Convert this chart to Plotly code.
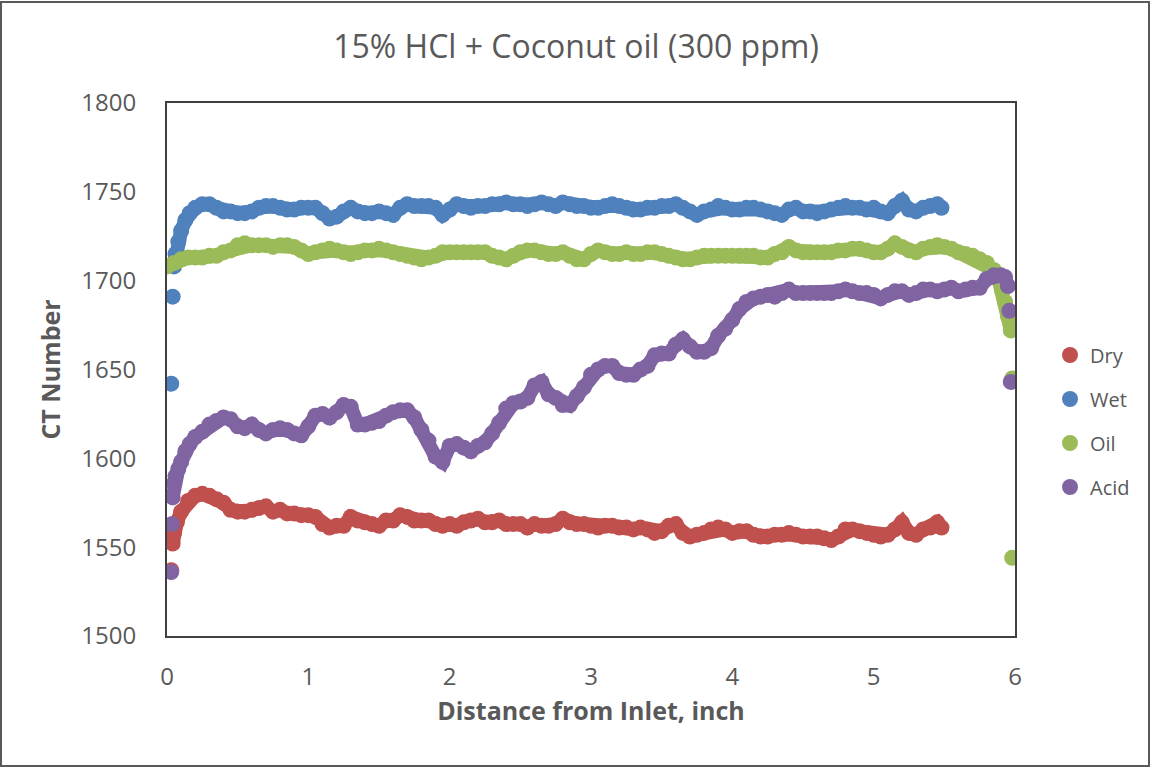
import plotly.graph_objects as go

# ---------------- data ----------------
dry_x = [0.03, 0.04, 0.05, 0.07, 0.10, 0.15, 0.20, 0.25, 0.30, 0.35, 0.40, 0.45, 0.50, 0.55, 0.60, 0.65, 0.70, 0.75, 0.80, 0.85,
         0.90, 0.95, 1.00, 1.05, 1.10, 1.15, 1.20, 1.25, 1.30, 1.35, 1.40, 1.45, 1.50, 1.55, 1.60, 1.65, 1.70, 1.75, 1.80, 1.85,
         1.90, 1.95, 2.00, 2.05, 2.10, 2.15, 2.20, 2.25, 2.30, 2.35, 2.40, 2.45, 2.50, 2.55, 2.60, 2.65, 2.70, 2.75, 2.80, 2.85,
         2.90, 2.95, 3.00, 3.05, 3.10, 3.15, 3.20, 3.25, 3.30, 3.35, 3.40, 3.45, 3.50, 3.55, 3.60, 3.65, 3.70, 3.75, 3.80, 3.85,
         3.90, 3.95, 4.00, 4.05, 4.10, 4.15, 4.20, 4.25, 4.30, 4.35, 4.40, 4.45, 4.50, 4.55, 4.60, 4.65, 4.70, 4.75, 4.80, 4.85,
         4.90, 4.95, 5.00, 5.05, 5.10, 5.15, 5.20, 5.25, 5.30, 5.35, 5.40, 5.45, 5.48]
dry_y = [1537, 1552, 1558, 1564, 1570, 1576, 1579, 1580, 1579, 1577, 1575, 1571, 1570, 1570, 1571, 1572, 1573, 1570, 1571, 1569,
         1569, 1568, 1568, 1567, 1563, 1561, 1562, 1562, 1567, 1565, 1564, 1563, 1562, 1565, 1565, 1568, 1567, 1565, 1565, 1565,
         1563, 1562, 1563, 1562, 1564, 1565, 1566, 1564, 1564, 1565, 1563, 1563, 1563, 1561, 1563, 1562, 1562, 1563, 1566, 1564,
         1563, 1563, 1562, 1561, 1562, 1562, 1561, 1561, 1560, 1561, 1560, 1558, 1559, 1562, 1563, 1558, 1556, 1557, 1558, 1560,
         1561, 1560, 1558, 1559, 1559, 1557, 1556, 1556, 1557, 1557, 1558, 1557, 1556, 1556, 1556, 1555, 1554, 1556, 1560, 1560,
         1559, 1558, 1557, 1556, 1557, 1560, 1564, 1558, 1557, 1560, 1561, 1564, 1561]

wet_x = [0.03, 0.04, 0.05, 0.06, 0.08, 0.10, 0.13, 0.16, 0.20, 0.25, 0.30, 0.35, 0.40, 0.45, 0.50, 0.55, 0.60, 0.65, 0.70, 0.75,
         0.80, 0.85, 0.90, 0.95, 1.00, 1.05, 1.10, 1.15, 1.20, 1.25, 1.30, 1.35, 1.40, 1.45, 1.50, 1.55, 1.60, 1.65, 1.70, 1.75,
         1.80, 1.85, 1.90, 1.95, 2.00, 2.05, 2.10, 2.15, 2.20, 2.25, 2.30, 2.35, 2.40, 2.45, 2.50, 2.55, 2.60, 2.65, 2.70, 2.75,
         2.80, 2.85, 2.90, 2.95, 3.00, 3.05, 3.10, 3.15, 3.20, 3.25, 3.30, 3.35, 3.40, 3.45, 3.50, 3.55, 3.60, 3.65, 3.70, 3.75,
         3.80, 3.85, 3.90, 3.95, 4.00, 4.05, 4.10, 4.15, 4.20, 4.25, 4.30, 4.35, 4.40, 4.45, 4.50, 4.55, 4.60, 4.65, 4.70, 4.75,
         4.80, 4.85, 4.90, 4.95, 5.00, 5.05, 5.10, 5.15, 5.20, 5.25, 5.30, 5.35, 5.40, 5.45, 5.48]
wet_y = [1642, 1691, 1708, 1715, 1722, 1728, 1734, 1738, 1741, 1743, 1743, 1741, 1739, 1739, 1738, 1738, 1739, 1741, 1742, 1742,
         1741, 1740, 1740, 1741, 1741, 1741, 1738, 1735, 1736, 1739, 1741, 1739, 1738, 1738, 1739, 1738, 1737, 1741, 1743, 1742,
         1742, 1742, 1741, 1737, 1740, 1743, 1742, 1741, 1742, 1742, 1743, 1743, 1744, 1743, 1743, 1742, 1743, 1744, 1743, 1742,
         1744, 1743, 1742, 1742, 1741, 1741, 1742, 1743, 1742, 1741, 1740, 1740, 1741, 1741, 1742, 1742, 1743, 1741, 1739, 1737,
         1739, 1740, 1742, 1741, 1740, 1740, 1741, 1741, 1740, 1739, 1738, 1737, 1740, 1741, 1739, 1739, 1738, 1739, 1740, 1741,
         1742, 1741, 1741, 1740, 1741, 1739, 1738, 1742, 1745, 1740, 1739, 1741, 1742, 1743, 1741]

oil_x = [0.00, 0.05, 0.10, 0.15, 0.20, 0.25, 0.30, 0.35, 0.40, 0.45, 0.50, 0.55, 0.60, 0.65, 0.70, 0.75, 0.80, 0.85, 0.90, 0.95,
         1.00, 1.05, 1.10, 1.15, 1.20, 1.25, 1.30, 1.35, 1.40, 1.45, 1.50, 1.55, 1.60, 1.65, 1.70, 1.75, 1.80, 1.85, 1.90, 1.95,
         2.00, 2.05, 2.10, 2.15, 2.20, 2.25, 2.30, 2.35, 2.40, 2.45, 2.50, 2.55, 2.60, 2.65, 2.70, 2.75, 2.80, 2.85, 2.90, 2.95,
         3.00, 3.05, 3.10, 3.15, 3.20, 3.25, 3.30, 3.35, 3.40, 3.45, 3.50, 3.55, 3.60, 3.65, 3.70, 3.75, 3.80, 3.85, 3.90, 3.95,
         4.00, 4.05, 4.10, 4.15, 4.20, 4.25, 4.30, 4.35, 4.40, 4.45, 4.50, 4.55, 4.60, 4.65, 4.70, 4.75, 4.80, 4.85, 4.90, 4.95,
         5.00, 5.05, 5.10, 5.15, 5.20, 5.25, 5.30, 5.35, 5.40, 5.45, 5.50, 5.55, 5.60, 5.65, 5.70, 5.75, 5.80, 5.85, 5.88, 5.91,
         5.93, 5.95, 5.97, 5.98, 5.98]
oil_y = [1708, 1710, 1712, 1713, 1713, 1713, 1714, 1714, 1716, 1717, 1720, 1721, 1720, 1720, 1720, 1719, 1720, 1720, 1719, 1717,
         1715, 1716, 1717, 1718, 1717, 1716, 1715, 1716, 1717, 1717, 1718, 1717, 1716, 1715, 1714, 1713, 1712, 1713, 1714, 1716,
         1716, 1716, 1716, 1716, 1716, 1716, 1714, 1713, 1712, 1714, 1716, 1717, 1717, 1716, 1715, 1715, 1716, 1714, 1712, 1712,
         1715, 1717, 1716, 1715, 1715, 1716, 1715, 1715, 1716, 1716, 1715, 1714, 1713, 1712, 1712, 1713, 1714, 1714, 1714, 1714,
         1714, 1714, 1714, 1714, 1713, 1713, 1715, 1716, 1719, 1717, 1716, 1716, 1716, 1716, 1716, 1717, 1717, 1718, 1718, 1717,
         1716, 1716, 1718, 1721, 1719, 1717, 1716, 1718, 1719, 1720, 1719, 1718, 1716, 1715, 1714, 1712, 1710, 1706, 1702, 1694,
         1688, 1680, 1672, 1645, 1544]

acid_x = [0.03, 0.035, 0.04, 0.05, 0.06, 0.08, 0.10, 0.13, 0.16, 0.20, 0.25, 0.30, 0.35, 0.40, 0.45, 0.50, 0.55, 0.60, 0.65, 0.70,
          0.75, 0.80, 0.85, 0.90, 0.95, 1.00, 1.05, 1.10, 1.15, 1.20, 1.25, 1.30, 1.35, 1.40, 1.45, 1.50, 1.55, 1.60, 1.65, 1.70,
          1.75, 1.80, 1.85, 1.90, 1.95, 2.00, 2.05, 2.10, 2.15, 2.20, 2.25, 2.30, 2.35, 2.40, 2.45, 2.50, 2.55, 2.60, 2.65, 2.70,
          2.75, 2.80, 2.85, 2.90, 2.95, 3.00, 3.05, 3.10, 3.15, 3.20, 3.25, 3.30, 3.35, 3.40, 3.45, 3.50, 3.55, 3.60, 3.65, 3.70,
          3.75, 3.80, 3.85, 3.90, 3.95, 4.00, 4.05, 4.10, 4.15, 4.20, 4.25, 4.30, 4.35, 4.40, 4.45, 4.50, 4.55, 4.60, 4.65, 4.70,
          4.75, 4.80, 4.85, 4.90, 4.95, 5.00, 5.05, 5.10, 5.15, 5.20, 5.25, 5.30, 5.35, 5.40, 5.45, 5.50, 5.55, 5.60, 5.65, 5.70,
          5.75, 5.80, 5.85, 5.90, 5.93, 5.95, 5.96, 5.97]
acid_y = [1536, 1563, 1578, 1586, 1590, 1594, 1598, 1604, 1608, 1612, 1615, 1619, 1621, 1623, 1622, 1618, 1617, 1619, 1616, 1614,
          1616, 1617, 1616, 1614, 1613, 1618, 1624, 1625, 1623, 1626, 1630, 1629, 1619, 1619, 1620, 1621, 1624, 1626, 1627, 1627,
          1623, 1616, 1610, 1601, 1598, 1607, 1608, 1606, 1604, 1607, 1609, 1614, 1620, 1628, 1631, 1632, 1634, 1641, 1643, 1636,
          1634, 1630, 1630, 1635, 1640, 1647, 1650, 1652, 1652, 1648, 1647, 1647, 1650, 1652, 1658, 1659, 1659, 1664, 1667, 1663,
          1660, 1660, 1662, 1669, 1673, 1678, 1684, 1688, 1690, 1691, 1692, 1691, 1693, 1695, 1693, 1693, 1693, 1693, 1693, 1693,
          1694, 1695, 1694, 1693, 1693, 1692, 1690, 1692, 1694, 1694, 1692, 1693, 1695, 1695, 1694, 1695, 1696, 1694, 1695, 1696,
          1696, 1701, 1703, 1703, 1702, 1697, 1683, 1643]

series_names = ["Dry", "Wet", "Oil", "Acid"]
series_colors = ["#C0504D", "#4F81BD", "#9BBB59", "#8064A2"]
x_ticks = [0, 1, 2, 3, 4, 5, 6]
y_ticks = [1500, 1550, 1600, 1650, 1700, 1750, 1800]

# contiguous (touching) part of each point cloud: (first, last-exclusive) index
band_ranges = [(1, None), (2, None), (0, -2), (2, -2)]

# ---------------- figure ----------------
W, H = 1152, 768
L, R, T, B = 167, 137, 103, 132
pw, ph = W - L - R, H - T - B

fig = go.Figure()
data = [(dry_x, dry_y), (wet_x, wet_y), (oil_x, oil_y), (acid_x, acid_y)]
for (xs, ys), name, col, (a, b) in zip(data, series_names, series_colors, band_ranges):
    # densely packed markers in the original read as one thick band
    fig.add_trace(go.Scatter(
        x=xs[a:b], y=ys[a:b], mode="lines", legendgroup=name, showlegend=False,
        line=dict(color=col, width=14), hoverinfo="skip",
    ))
    fig.add_trace(go.Scatter(
        x=xs, y=ys, mode="markers", name=name, legendgroup=name,
        marker=dict(color=col, size=16, line=dict(width=0)),
    ))

font_family = "Open Sans, Liberation Sans, sans-serif"
grey = "#595959"

fig.update_layout(
    width=W, height=H,
    margin=dict(l=L, r=R, t=T, b=B),
    paper_bgcolor="white", plot_bgcolor="white",
    font=dict(family=font_family, color=grey, size=24),
    title=dict(text="15% HCl + Coconut oil (300 ppm)", x=0.5, xref="container", xanchor="center",
               y=1 - 47 / H, yanchor="middle", font=dict(size=32, color=grey)),
    showlegend=True,
    legend=dict(x=(1050 - L) / pw, xanchor="left", y=(636 - 421) / ph, yanchor="middle",
                font=dict(size=20, color=grey), tracegroupgap=15, itemwidth=30,
                bgcolor="rgba(0,0,0,0)"),
    xaxis=dict(range=[0, 6], tickvals=x_ticks, showgrid=False, zeroline=False,
               showline=True, linecolor="#404040", linewidth=2, mirror=True,
               ticks="", ticklabelstandoff=18, tickfont=dict(size=24, color=grey),
               title=dict(text="<b>Distance from Inlet, inch</b>", standoff=12,
                          font=dict(size=25, color=grey))),
    yaxis=dict(range=[1500, 1800], tickvals=y_ticks, showgrid=False, zeroline=False,
               showline=True, linecolor="#404040", linewidth=2, mirror=True,
               ticks="", ticklabelstandoff=24, tickfont=dict(size=24, color=grey),
               title=dict(text="<b>CT Number</b>", standoff=14,
                          font=dict(size=25, color=grey))),
)

# outer chart border
fig.add_shape(type="rect", xref="paper", yref="paper",
              x0=(1 - L) / pw, x1=(1149 - L) / pw,
              y0=(636 - 766) / ph, y1=(636 - 2) / ph,
              line=dict(color="#595959", width=2), fillcolor="rgba(0,0,0,0)", layer="below")

fig.write_html("out.html")
